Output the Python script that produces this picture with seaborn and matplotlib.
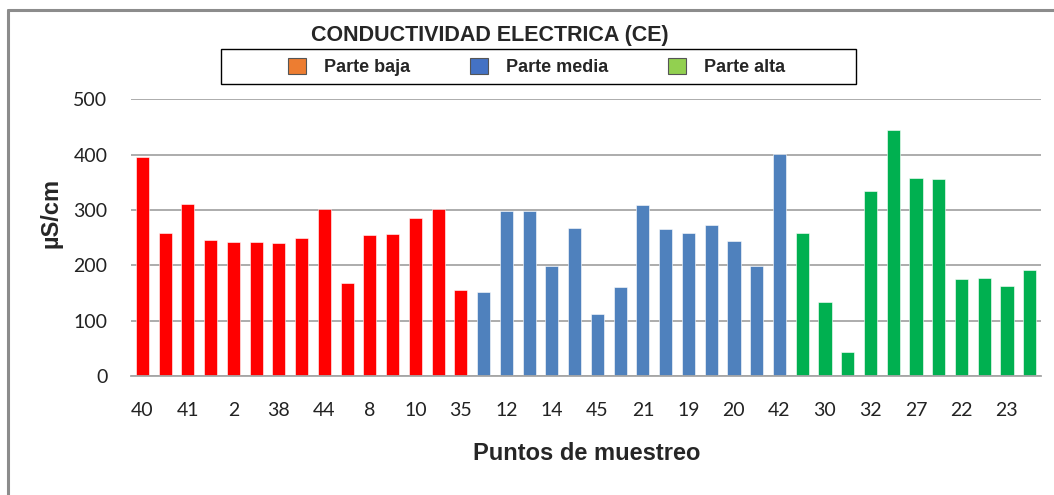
import pandas as pd
import matplotlib.pyplot as plt
import seaborn as sns
from matplotlib.patches import Patch, Rectangle
from matplotlib.lines import Line2D

# Conductividad electrica por zona (uS/cm), en el orden del grafico
parte_baja = [395, 258, 311, 246, 242, 242, 240, 249, 302, 168, 254, 256, 286, 301, 156]
parte_media = [152, 298, 298, 199, 267, 112, 161, 309, 265, 258, 272, 244, 199, 402]
parte_alta = [258, 133, 44, 335, 444, 358, 356, 175, 177, 163, 191]

# Solo se rotula un punto de cada dos
etiquetas = ['40', '41', '2', '38', '44', '8', '10', '35', '12', '14',
             '45', '21', '19', '20', '42', '30', '32', '27', '22', '23']

zonas = ['Parte baja', 'Parte media', 'Parte alta']
colores_barras = {'Parte baja': '#FF0000', 'Parte media': '#4F81BD', 'Parte alta': '#00B050'}
colores_leyenda = ['#ED7D31', '#4472C4', '#92D050']

valores = parte_baja + parte_media + parte_alta
zona = (['Parte baja'] * len(parte_baja) + ['Parte media'] * len(parte_media)
        + ['Parte alta'] * len(parte_alta))
df = pd.DataFrame({'pos': range(len(valores)), 'ce': valores, 'zona': zona})

sns.set_style('white')
plt.rcParams['font.family'] = ['Lato', 'DejaVu Sans']
negrita = ['Liberation Sans', 'DejaVu Sans']

fig = plt.figure(figsize=(10.54, 4.95), dpi=100)
ax = fig.add_axes([0.1243, 0.2404, 0.8634, 0.5590])

sns.barplot(data=df, x='pos', y='ce', hue='zona', palette=colores_barras,
            dodge=False, width=0.58, saturation=1, legend=False, ax=ax,
            edgecolor='white', linewidth=0.4)

ax.set_ylim(0, 500)
ax.set_xlim(-0.5, len(valores) - 0.5)
ax.set_yticks(range(0, 501, 100))
ax.yaxis.grid(True, color='#A6A6A6', linewidth=1.3)
ax.set_axisbelow(True)
for s in ['top', 'right', 'left']:
    ax.spines[s].set_visible(False)
ax.spines['bottom'].set_color('#A6A6A6')
ax.spines['bottom'].set_linewidth(1.3)

ax.set_xticks(range(0, len(valores), 2))
ax.set_xticklabels(etiquetas)
ax.tick_params(axis='x', length=0, pad=19, labelsize=14, colors='#222222')
ax.tick_params(axis='y', length=0, pad=17, labelsize=14, colors='#222222')

ax.set_xlabel('Puntos de muestreo', fontsize=17, fontweight='bold', family=negrita)
ax.xaxis.set_label_coords(0.5005, -0.24)
ax.set_ylabel('µS/cm', fontsize=17, fontweight='bold', family=negrita)
ax.yaxis.set_label_coords(-0.075, 0.588)

fig.text(0.465, 0.928, 'CONDUCTIVIDAD ELECTRICA (CE)', ha='center', va='center',
         fontsize=15.5, fontweight='bold', family=negrita)

# recuadro de la leyenda
fig.add_artist(Rectangle((0.2097, 0.8303), 0.6025, 0.0707, transform=fig.transFigure,
                         facecolor='white', edgecolor='black', linewidth=1.0))
handles = [Patch(facecolor=c, edgecolor='#555555', linewidth=0.8) for c in colores_leyenda]
fig.legend(handles, zonas, loc='center', bbox_to_anchor=(0.509, 0.8646),
           ncol=3, frameon=False, handlelength=1.0, handleheight=1.0,
           columnspacing=3.3, handletextpad=1.0, borderpad=0,
           prop={'family': negrita, 'weight': 'bold', 'size': 13})

# marco gris del grafico (arriba e izquierda)
fig.add_artist(Line2D([0.0076, 1.0], [0.98, 0.98], color='#8C8C8C', linewidth=2.2))
fig.add_artist(Line2D([0.0076, 0.0076], [0.0, 0.98], color='#8C8C8C', linewidth=2.2))

fig.savefig('out.png', dpi=100)
